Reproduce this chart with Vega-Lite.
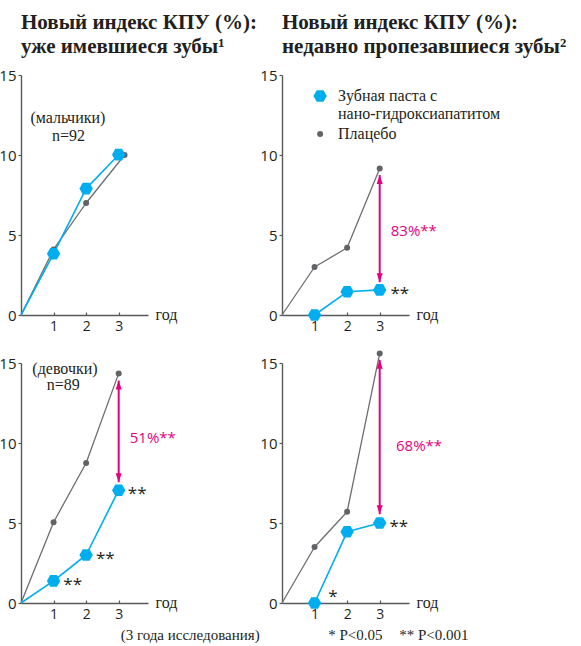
{
  "$schema": "https://vega.github.io/schema/vega-lite/v6.json",
  "background": "white",
  "padding": {"left": -2, "top": 12, "right": 0, "bottom": 0},
  "data": {"values": [
    {"r": "1", "c": "a", "t": "s", "g": "Плацебо", "x": 0, "y": 0},
    {"r": "1", "c": "a", "t": "s", "g": "Плацебо", "x": 1, "y": 4.1},
    {"r": "1", "c": "a", "t": "s", "g": "Плацебо", "x": 2, "y": 7.0},
    {"r": "1", "c": "a", "t": "s", "g": "Плацебо", "x": 3.18, "y": 10.0},
    {"r": "1", "c": "a", "t": "s", "g": "Зубная паста с нано-гидроксиапатитом", "x": 0, "y": 0},
    {"r": "1", "c": "a", "t": "s", "g": "Зубная паста с нано-гидроксиапатитом", "x": 1, "y": 3.83},
    {"r": "1", "c": "a", "t": "s", "g": "Зубная паста с нано-гидроксиапатитом", "x": 2, "y": 7.9},
    {"r": "1", "c": "a", "t": "s", "g": "Зубная паста с нано-гидроксиапатитом", "x": 3, "y": 10.02},
    {"r": "1", "c": "b", "t": "s", "g": "Плацебо", "x": 0, "y": 0},
    {"r": "1", "c": "b", "t": "s", "g": "Плацебо", "x": 1, "y": 3.0},
    {"r": "1", "c": "b", "t": "s", "g": "Плацебо", "x": 2, "y": 4.2},
    {"r": "1", "c": "b", "t": "s", "g": "Плацебо", "x": 3, "y": 9.15},
    {"r": "1", "c": "b", "t": "s", "g": "Зубная паста с нано-гидроксиапатитом", "x": 1, "y": 0},
    {"r": "1", "c": "b", "t": "s", "g": "Зубная паста с нано-гидроксиапатитом", "x": 2, "y": 1.45},
    {"r": "1", "c": "b", "t": "s", "g": "Зубная паста с нано-гидроксиапатитом", "x": 3, "y": 1.57},
    {"r": "2", "c": "a", "t": "s", "g": "Плацебо", "x": 0, "y": 0},
    {"r": "2", "c": "a", "t": "s", "g": "Плацебо", "x": 1, "y": 5.05},
    {"r": "2", "c": "a", "t": "s", "g": "Плацебо", "x": 2, "y": 8.75},
    {"r": "2", "c": "a", "t": "s", "g": "Плацебо", "x": 3, "y": 14.35},
    {"r": "2", "c": "a", "t": "s", "g": "Зубная паста с нано-гидроксиапатитом", "x": 0, "y": 0},
    {"r": "2", "c": "a", "t": "s", "g": "Зубная паста с нано-гидроксиапатитом", "x": 1, "y": 1.38},
    {"r": "2", "c": "a", "t": "s", "g": "Зубная паста с нано-гидроксиапатитом", "x": 2, "y": 3.0},
    {"r": "2", "c": "a", "t": "s", "g": "Зубная паста с нано-гидроксиапатитом", "x": 3, "y": 7.05},
    {"r": "2", "c": "b", "t": "s", "g": "Плацебо", "x": 0, "y": 0},
    {"r": "2", "c": "b", "t": "s", "g": "Плацебо", "x": 1, "y": 3.5},
    {"r": "2", "c": "b", "t": "s", "g": "Плацебо", "x": 2, "y": 5.7},
    {"r": "2", "c": "b", "t": "s", "g": "Плацебо", "x": 3, "y": 15.6},
    {"r": "2", "c": "b", "t": "s", "g": "Зубная паста с нано-гидроксиапатитом", "x": 1, "y": 0},
    {"r": "2", "c": "b", "t": "s", "g": "Зубная паста с нано-гидроксиапатитом", "x": 2, "y": 4.45},
    {"r": "2", "c": "b", "t": "s", "g": "Зубная паста с нано-гидроксиапатитом", "x": 3, "y": 5.0},
    {"r": "1", "c": "b", "t": "lg", "g": "Зубная паста с нано-гидроксиапатитом", "x": 1.17, "y": 13.69},
    {"r": "1", "c": "b", "t": "lg", "g": "Плацебо", "x": 1.17, "y": 11.31},
    {"r": "1", "c": "b", "t": "lt", "x": 1.72, "y": 13.69, "label": "Зубная паста с"},
    {"r": "1", "c": "b", "t": "lt", "x": 1.72, "y": 12.56, "label": "нано-гидроксиапатитом"},
    {"r": "1", "c": "b", "t": "lt", "x": 1.72, "y": 11.31, "label": "Плацебо"},
    {"r": "1", "c": "b", "t": "a", "x": 3, "y": 8.75, "y2": 2.05},
    {"r": "2", "c": "a", "t": "a", "x": 3, "y": 13.9, "y2": 7.55},
    {"r": "2", "c": "b", "t": "a", "x": 3, "y": 15.2, "y2": 5.55},
    {"r": "1", "c": "b", "t": "p", "x": 3.34, "y": 5.25, "label": "83%**"},
    {"r": "2", "c": "a", "t": "p", "x": 3.34, "y": 10.3, "label": "51%**"},
    {"r": "2", "c": "b", "t": "p", "x": 3.5, "y": 9.8, "label": "68%**"},
    {"r": "1", "c": "b", "t": "st", "x": 3.33, "y": 1.57, "label": "**"},
    {"r": "2", "c": "a", "t": "st", "x": 1.3, "y": 1.38, "label": "**"},
    {"r": "2", "c": "a", "t": "st", "x": 2.3, "y": 3.0, "label": "**"},
    {"r": "2", "c": "a", "t": "st", "x": 3.28, "y": 7.05, "label": "**"},
    {"r": "2", "c": "b", "t": "st", "x": 3.3, "y": 5.0, "label": "**"},
    {"r": "2", "c": "b", "t": "st", "x": 1.42, "y": 0.6, "label": "*"},
    {"r": "1", "c": "a", "t": "n", "x": 1.44, "y": 12.3, "label": "(мальчики)"},
    {"r": "1", "c": "a", "t": "n", "x": 1.46, "y": 11.2, "label": "n=92"},
    {"r": "2", "c": "a", "t": "n", "x": 1.35, "y": 14.6, "label": "(девочки)"},
    {"r": "2", "c": "a", "t": "n", "x": 1.3, "y": 13.6, "label": "n=89"},
    {"r": "2", "c": "a", "t": "f", "x": 3.06, "y": -2.0, "label": "(3 года исследования)"},
    {"r": "2", "c": "b", "t": "f", "x": 1.42, "y": -2.0, "label": "* P<0.05"},
    {"r": "2", "c": "b", "t": "f", "x": 3.6, "y": -2.0, "label": "** P<0.001"}
  ]},
  "facet": {
    "row": {"field": "r", "type": "nominal", "header": null, "title": null},
    "column": {"field": "c", "type": "nominal", "title": null,
      "header": {
        "labelExpr": "datum.value == 'a' ? ['Новый индекс КПУ (%):', 'уже имевшиеся зубы¹'] : ['Новый индекс КПУ (%):', 'недавно пропезавшиеся зубы²']",
        "labelFont": "Liberation Serif", "labelFontSize": 21, "labelFontWeight": "bold",
        "labelColor": "#231f20", "labelAnchor": "start", "labelAlign": "left",
        "labelOrient": "top", "labelPadding": 18, "labelLineHeight": 24
      }
    }
  },
  "spacing": {"row": 48, "column": 134},
  "bounds": "flush",
  "resolve": {"axis": {"x": "independent", "y": "independent"}},
  "spec": {
    "width": 127,
    "height": 240,
    "layer": [
      {
        "transform": [{"filter": "datum.t == 's'"}],
        "mark": {"type": "line", "strokeJoin": "round"},
        "encoding": {
          "x": {"field": "x", "type": "quantitative", "scale": {"domain": [0, 3.9], "nice": false, "zero": false},
            "axis": {"values": [1, 2, 3], "title": "год", "titleX": 134, "titleY": -1, "titleAlign": "left",
              "titleBaseline": "middle", "titleAngle": 0, "titleFont": "Liberation Serif", "titleFontSize": 16,
              "titleFontWeight": "normal", "titleColor": "#231f20", "tickSize": -3, "labelPadding": 7,
              "labelFlush": false}},
          "y": {"field": "y", "type": "quantitative", "scale": {"domain": [0, 15], "nice": false},
            "axis": {"values": [0, 5, 10, 15], "title": null, "tickSize": 3, "labelPadding": 2, "labelFontSize": 15}},
          "stroke": {"field": "g", "type": "nominal",
            "scale": {"domain": ["Зубная паста с нано-гидроксиапатитом", "Плацебо"], "range": ["#00aeef", "#6d6e71"]},
            "legend": null},
          "strokeWidth": {"field": "g", "type": "ordinal",
            "scale": {"domain": ["Зубная паста с нано-гидроксиапатитом", "Плацебо"], "range": [1.6, 1.3]},
            "legend": null},
          "order": {"field": "x"}
        }
      },
      {
        "transform": [{"filter": "(datum.t == 's' && datum.x > 0) || datum.t == 'lg'"}],
        "mark": {"type": "point", "filled": true, "opacity": 1, "strokeWidth": 0},
        "encoding": {
          "x": {"field": "x", "type": "quantitative"},
          "y": {"field": "y", "type": "quantitative"},
          "color": {"field": "g", "type": "nominal",
            "scale": {"domain": ["Зубная паста с нано-гидроксиапатитом", "Плацебо"], "range": ["#00aeef", "#626366"]},
            "legend": null},
          "shape": {"field": "g", "type": "nominal",
            "scale": {"domain": ["Зубная паста с нано-гидроксиапатитом", "Плацебо"],
              "range": ["M-1,0L-0.5,-0.866L0.5,-0.866L1,0L0.5,0.866L-0.5,0.866Z", "circle"]},
            "legend": null},
          "size": {"field": "g", "type": "ordinal",
            "scale": {"domain": ["Зубная паста с нано-гидроксиапатитом", "Плацебо"], "range": [180, 36]},
            "legend": null}
        }
      },
      {
        "transform": [{"filter": "datum.t == 'lt'"}],
        "mark": {"type": "text", "align": "left", "baseline": "middle", "font": "Liberation Serif", "fontSize": 16, "color": "#231f20"},
        "encoding": {
          "x": {"field": "x", "type": "quantitative"},
          "y": {"field": "y", "type": "quantitative"},
          "text": {"field": "label"}
        }
      },
      {
        "transform": [{"filter": "datum.t == 'a'"}],
        "mark": {"type": "rule", "color": "#e6007e", "strokeWidth": 2},
        "encoding": {
          "x": {"field": "x", "type": "quantitative"},
          "y": {"field": "y", "type": "quantitative"},
          "y2": {"field": "y2"}
        }
      },
      {
        "transform": [{"filter": "datum.t == 'a'"}],
        "mark": {"type": "point", "filled": true, "opacity": 1, "color": "#e6007e", "strokeWidth": 0,
          "shape": "M0,0L1,3L-1,3Z", "size": 36},
        "encoding": {
          "x": {"field": "x", "type": "quantitative"},
          "y": {"field": "y", "type": "quantitative"}
        }
      },
      {
        "transform": [{"filter": "datum.t == 'a'"}],
        "mark": {"type": "point", "filled": true, "opacity": 1, "color": "#e6007e", "strokeWidth": 0,
          "shape": "M0,0L1,-3L-1,-3Z", "size": 36},
        "encoding": {
          "x": {"field": "x", "type": "quantitative"},
          "y": {"field": "y2", "type": "quantitative"}
        }
      },
      {
        "transform": [{"filter": "datum.t == 'p'"}],
        "mark": {"type": "text", "align": "left", "baseline": "middle", "font": "Open Sans", "fontSize": 15, "color": "#e6007e"},
        "encoding": {
          "x": {"field": "x", "type": "quantitative"},
          "y": {"field": "y", "type": "quantitative"},
          "text": {"field": "label"}
        }
      },
      {
        "transform": [{"filter": "datum.t == 'st'"}],
        "mark": {"type": "text", "align": "left", "baseline": "middle", "font": "Open Sans", "fontSize": 17, "color": "#231f20", "dy": 4},
        "encoding": {
          "x": {"field": "x", "type": "quantitative"},
          "y": {"field": "y", "type": "quantitative"},
          "text": {"field": "label"}
        }
      },
      {
        "transform": [{"filter": "datum.t == 'n'"}],
        "mark": {"type": "text", "align": "center", "baseline": "middle", "font": "Liberation Serif", "fontSize": 16, "color": "#231f20"},
        "encoding": {
          "x": {"field": "x", "type": "quantitative"},
          "y": {"field": "y", "type": "quantitative"},
          "text": {"field": "label"}
        }
      },
      {
        "transform": [{"filter": "datum.t == 'f'"}],
        "mark": {"type": "text", "align": "left", "baseline": "middle", "font": "Liberation Serif", "fontSize": 15, "color": "#231f20"},
        "encoding": {
          "x": {"field": "x", "type": "quantitative"},
          "y": {"field": "y", "type": "quantitative"},
          "text": {"field": "label"}
        }
      }
    ]
  },
  "config": {
    "view": {"stroke": null},
    "axis": {"grid": false, "domainColor": "#58595b", "tickColor": "#58595b", "domainWidth": 1.4, "tickWidth": 1.2,
      "labelFont": "Open Sans", "labelFontSize": 14, "labelColor": "#231f20"}
  }
}
